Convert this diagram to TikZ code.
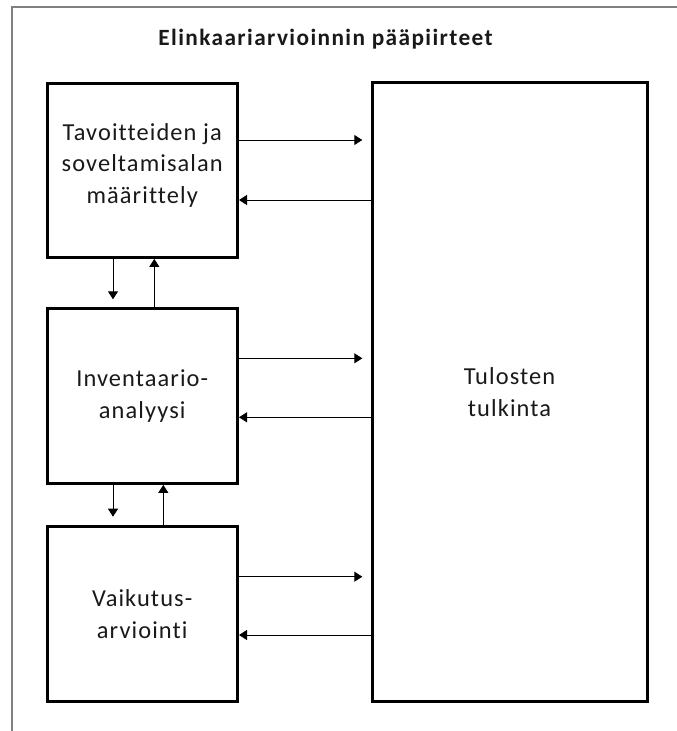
\documentclass[tikz,border=0pt]{standalone}
\usepackage{fontspec}
\setmainfont{Carlito}
\newfontfamily\boxfont[LetterSpace=4.5,Ligatures={NoCommon,NoRare,NoContextual}]{Carlito}
\newfontfamily\titlefont[LetterSpace=6,Ligatures={NoCommon,NoRare,NoContextual}]{Carlito}
\usetikzlibrary{arrows.meta}
\begin{document}
\begin{tikzpicture}[x=1pt,y=-1pt,
  box/.style={draw=black,line width=3pt,inner sep=0pt,align=center,
    font=\boxfont\fontsize{24.4}{31.5}\selectfont,text=black!90},
  arr/.style={line width=0.9pt,-{Triangle[length=8pt,width=10pt]}},
  frame/.style={draw=black!50,line width=2pt}]
\useasboundingbox (0,0) rectangle (677,731);
% outer frame (cropped at right and bottom)
\draw[frame] (12,731) -- (12,7) -- (677,7);
% title
\node[anchor=base,font=\titlefont\fontsize{23.3}{28}\selectfont\bfseries,text=black!90] (title) at (325.5,45) {Elinkaariarvioinnin pääpiirteet};
% boxes
\node[box,minimum width=190.5pt,minimum height=174pt] (b1) at (142.25,170.4) {\rule{0pt}{0pt}\\[-25pt]Tavoitteiden ja\\soveltamisalan\\määrittely};
\node[box,minimum width=190.5pt,minimum height=175pt] (b2) at (142.25,395.9) {Inventaario-\\analyysi};
\node[box,minimum width=190.5pt,minimum height=175pt] (b3) at (142.25,614.3) {Vaikutus-\\arviointi};
\node[box,minimum width=275pt,minimum height=619.2pt] (big) at (509.5,392.1) {Tulosten\\tulkinta};
% helper coordinates
\coordinate (r1) at (362.3,140);
\coordinate (l1) at (0,200);
\coordinate (r2) at (362.3,358.3);
\coordinate (l2) at (0,417.3);
\coordinate (r3) at (362.3,576.7);
\coordinate (l3) at (0,635);
\coordinate (d1) at (113,299.3);
\coordinate (u1) at (154.3,0);
\coordinate (d2) at (113,516.7);
\coordinate (u2) at (163.3,0);
% horizontal connectors
\draw[arr] (r1 -| b1.east) -- (r1);
\draw[arr] (l1 -| big.west) -- (l1 -| b1.east);
\draw[arr] (r2 -| b2.east) -- (r2);
\draw[arr] (l2 -| big.west) -- (l2 -| b2.east);
\draw[arr] (r3 -| b3.east) -- (r3);
\draw[arr] (l3 -| big.west) -- (l3 -| b3.east);
% vertical connectors
\draw[arr] (d1 |- b1.south) -- (d1);
\draw[arr] (u1 |- b2.north) -- (u1 |- b1.south);
\draw[arr] (d2 |- b2.south) -- (d2);
\draw[arr] (u2 |- b3.north) -- (u2 |- b2.south);
\end{tikzpicture}
\end{document}
